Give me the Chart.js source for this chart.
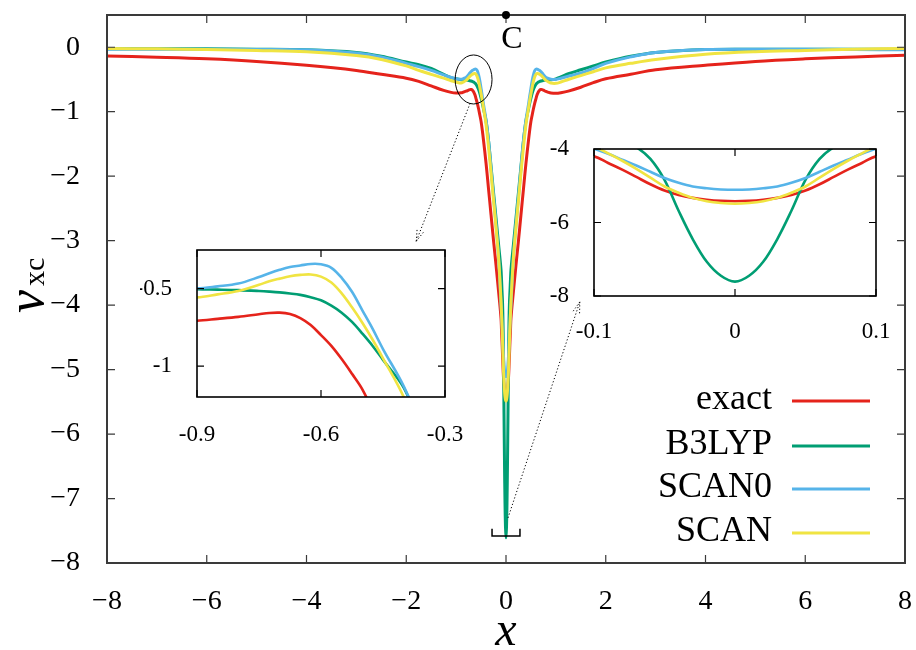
<!DOCTYPE html>
<html>
<head>
<meta charset="utf-8">
<script src="https://cdn.jsdelivr.net/npm/chart.js@4"></script>
<style>
  body { margin: 0; background: #fff; }
  #wrap { position: relative; width: 916px; height: 650px; }
  canvas { position: absolute; }
</style>
</head>
<body>
<div id="wrap">
  <canvas id="main" width="916" height="650" style="left:0;top:0"></canvas>
  <canvas id="inset1" width="340" height="215" style="left:140px;top:235px"></canvas>
  <canvas id="inset2" width="386" height="215" style="left:530px;top:135px"></canvas>
</div>
<script>
// x grid (denser near the nucleus at x = 0)
const xs = [
  -8, -7, -6, -5, -4, -3, -2.5, -2, -1.75, -1.5, -1.25, -1.1, -1,
  -0.9, -0.85, -0.8, -0.75, -0.725, -0.7, -0.675, -0.65, -0.625, -0.6, -0.575, -0.55, -0.525, -0.5, -0.475, -0.45,
  -0.4, -0.35, -0.3, -0.25, -0.2, -0.15, -0.1,
  -0.09, -0.08, -0.07, -0.06, -0.05, -0.04, -0.03, -0.02, -0.01, 0,
  0.01, 0.02, 0.03, 0.04, 0.05, 0.06, 0.07, 0.08, 0.09,
  0.1, 0.15, 0.2, 0.25, 0.3, 0.35, 0.4,
  0.45, 0.475, 0.5, 0.525, 0.55, 0.575, 0.6, 0.625, 0.65, 0.675, 0.7, 0.725, 0.75, 0.8, 0.85, 0.9,
  1, 1.1, 1.25, 1.5, 1.75, 2, 2.5, 3, 4, 5, 6, 7, 8
];

const exact = [
  -0.135, -0.155, -0.18, -0.22, -0.28, -0.36, -0.42, -0.48, -0.53, -0.6, -0.67, -0.70, -0.71,
  -0.707, -0.695, -0.682, -0.665, -0.657, -0.655, -0.664, -0.69, -0.735, -0.80, -0.87, -0.955, -1.05, -1.15, -1.29, -1.45,
  -1.8, -2.2, -2.6, -3.0, -3.38, -3.78, -4.2,
  -4.38, -4.56, -4.76, -4.96, -5.13, -5.25, -5.33, -5.38, -5.41, -5.42,
  -5.41, -5.38, -5.33, -5.25, -5.13, -4.96, -4.76, -4.56, -4.38,
  -4.2, -3.78, -3.38, -3.0, -2.6, -2.2, -1.8,
  -1.45, -1.29, -1.15, -1.05, -0.955, -0.87, -0.80, -0.735, -0.69, -0.664, -0.655, -0.657, -0.665, -0.685, -0.70, -0.71,
  -0.715, -0.705, -0.68, -0.62, -0.55, -0.49, -0.42, -0.35, -0.28, -0.22, -0.18, -0.15, -0.125
];

const b3lyp = [
  -0.025, -0.025, -0.025, -0.03, -0.04, -0.08, -0.14, -0.23, -0.27, -0.33, -0.42, -0.47, -0.49,
  -0.504, -0.506, -0.509, -0.515, -0.519, -0.524, -0.531, -0.54, -0.555, -0.575, -0.61, -0.655, -0.715, -0.79, -0.87, -0.96,
  -1.14, -1.45, -1.85, -2.25, -2.65, -3.05, -3.45,
  -3.6, -3.78, -3.95, -4.27, -4.84, -5.68, -6.45, -7.07, -7.45, -7.61,
  -7.45, -7.07, -6.45, -5.68, -4.84, -4.27, -3.95, -3.78, -3.6,
  -3.45, -3.05, -2.65, -2.25, -1.85, -1.45, -1.14,
  -0.96, -0.87, -0.79, -0.715, -0.655, -0.61, -0.575, -0.555, -0.54, -0.531, -0.524, -0.519, -0.515, -0.509, -0.506, -0.504,
  -0.49, -0.46, -0.41, -0.35, -0.29, -0.23, -0.14, -0.08, -0.035, -0.03, -0.03, -0.03, -0.03
];

const scan0 = [
  -0.03, -0.03, -0.03, -0.035, -0.04, -0.09, -0.15, -0.25, -0.30, -0.36, -0.43, -0.47, -0.49,
  -0.498, -0.485, -0.467, -0.425, -0.40, -0.378, -0.36, -0.35, -0.34, -0.342, -0.365, -0.43, -0.52, -0.64, -0.76, -0.89,
  -1.13, -1.45, -1.88, -2.32, -2.75, -3.25, -3.99,
  -4.13, -4.29, -4.45, -4.62, -4.79, -4.92, -5.02, -5.07, -5.10, -5.11,
  -5.10, -5.07, -5.02, -4.92, -4.79, -4.62, -4.45, -4.29, -4.13,
  -3.99, -3.25, -2.75, -2.32, -1.88, -1.45, -1.13,
  -0.89, -0.76, -0.64, -0.52, -0.43, -0.365, -0.342, -0.34, -0.35, -0.36, -0.378, -0.40, -0.425, -0.467, -0.485, -0.498,
  -0.50, -0.48, -0.45, -0.40, -0.33, -0.25, -0.15, -0.08, -0.035, -0.03, -0.03, -0.035, -0.04
];

const scan = [
  -0.02, -0.025, -0.035, -0.05, -0.07, -0.13, -0.19, -0.29, -0.36, -0.42, -0.48, -0.52, -0.54,
  -0.556, -0.537, -0.515, -0.475, -0.452, -0.435, -0.42, -0.411, -0.408, -0.422, -0.46, -0.53, -0.62, -0.72, -0.83, -0.95,
  -1.2, -1.55, -1.95, -2.38, -2.8, -3.25, -3.93,
  -4.12, -4.32, -4.54, -4.78, -5.02, -5.19, -5.33, -5.42, -5.47, -5.49,
  -5.47, -5.42, -5.33, -5.19, -5.02, -4.78, -4.54, -4.32, -4.12,
  -3.93, -3.25, -2.8, -2.38, -1.95, -1.55, -1.2,
  -0.95, -0.83, -0.72, -0.62, -0.53, -0.46, -0.422, -0.408, -0.411, -0.42, -0.435, -0.452, -0.475, -0.515, -0.537, -0.556,
  -0.56, -0.54, -0.50, -0.44, -0.38, -0.32, -0.25, -0.19, -0.11, -0.07, -0.05, -0.03, -0.02
];

const seriesNames = ['exact', 'B3LYP', 'SCAN0', 'SCAN'];
const seriesColors = ['#e5231b', '#009e73', '#56b4e9', '#f0e442'];
const seriesValues = [exact, b3lyp, scan0, scan];

// tick labels
const mainXTicks = [-8, -6, -4, -2, 0, 2, 4, 6, 8];
const mainYTicks = [0, -1, -2, -3, -4, -5, -6, -7, -8];
const inset1XTicks = [-0.9, -0.6, -0.3];
const inset1YTicks = [-0.5, -1];
const inset2XTicks = [-0.1, 0, 0.1];
const inset2YTicks = [-4, -6, -8];

const SERIF = 'Liberation Serif';

function makeDatasets(width) {
  return seriesNames.map((name, i) => ({
    label: name,
    data: xs.map((x, j) => ({ x: x, y: seriesValues[i][j] })),
    borderColor: seriesColors[i],
    borderWidth: width,
    pointRadius: 0,
    fill: false,
    tension: 0.35,
    order: 4 - i   // SCAN drawn on top
  }));
}

function fixedTicks(values) {
  return scale => { scale.ticks = values.map(v => ({ value: v })); };
}

// fixed axis box size, no automatic label overflow padding
function fixedSize(prop, size) {
  return scale => {
    scale[prop] = size;
    scale.paddingLeft = 0; scale.paddingRight = 0;
    scale.paddingTop = 0; scale.paddingBottom = 0;
  };
}

// gnuplot style frame with inward ticks on all four sides
function framePlugin(xTicks, yTicks, color, frameWidth, tickLen, fillWhite) {
  return {
    id: 'frame',
    beforeDraw(chart) {
      if (!fillWhite) return;
      const a = chart.chartArea;
      chart.ctx.save();
      chart.ctx.fillStyle = '#fff';
      chart.ctx.fillRect(a.left, a.top, a.right - a.left, a.bottom - a.top);
      chart.ctx.restore();
    },
    afterDatasetsDraw(chart) {
      const { ctx, chartArea: a, scales: { x, y } } = chart;
      ctx.save();
      ctx.strokeStyle = color;
      ctx.lineWidth = 1.2;
      ctx.beginPath();
      xTicks.forEach(v => {
        const px = x.getPixelForValue(v);
        ctx.moveTo(px, a.bottom); ctx.lineTo(px, a.bottom - tickLen);
        ctx.moveTo(px, a.top); ctx.lineTo(px, a.top + tickLen);
      });
      yTicks.forEach(v => {
        const py = y.getPixelForValue(v);
        ctx.moveTo(a.left, py); ctx.lineTo(a.left + tickLen, py);
        ctx.moveTo(a.right, py); ctx.lineTo(a.right - tickLen, py);
      });
      ctx.stroke();
      ctx.lineWidth = frameWidth;
      ctx.strokeRect(a.left, a.top, a.right - a.left, a.bottom - a.top);
      ctx.restore();
    }
  };
}

function dottedArrow(ctx, x0, y0, x1, y1) {
  ctx.save();
  ctx.setLineDash([1.2, 2.2]);
  ctx.lineWidth = 1;
  ctx.strokeStyle = '#000';
  ctx.beginPath();
  ctx.moveTo(x0, y0);
  ctx.lineTo(x1, y1);
  const ang = Math.atan2(y1 - y0, x1 - x0);
  [0.3, -0.3].forEach(d => {
    ctx.moveTo(x1, y1);
    ctx.lineTo(x1 - 12 * Math.cos(ang + d), y1 - 12 * Math.sin(ang + d));
  });
  ctx.stroke();
  ctx.restore();
}

const annotations = {
  id: 'annotations',
  afterDraw(chart) {
    const { ctx, scales: { x, y } } = chart;
    ctx.save();

    // ellipse around the bump near x = -0.65
    const cx = x.getPixelForValue(-0.65), cy = y.getPixelForValue(-0.5);
    const rx = x.getPixelForValue(-0.28) - cx, ry = y.getPixelForValue(-0.88) - cy;
    ctx.strokeStyle = '#000';
    ctx.lineWidth = 1;
    ctx.beginPath();
    ctx.ellipse(cx, cy, rx, ry, 0, 0, Math.PI * 2);
    ctx.stroke();

    // bracket at the bottom of the cusp
    const bl = x.getPixelForValue(-0.28), br = x.getPixelForValue(0.28);
    const bt = y.getPixelForValue(-7.47), bb = y.getPixelForValue(-7.58);
    ctx.lineWidth = 1.5;
    ctx.beginPath();
    ctx.moveTo(bl, bt); ctx.lineTo(bl, bb); ctx.lineTo(br, bb); ctx.lineTo(br, bt);
    ctx.stroke();

    dottedArrow(ctx, x.getPixelForValue(-0.72), y.getPixelForValue(-0.87),
                x.getPixelForValue(-1.8), y.getPixelForValue(-3.01));
    dottedArrow(ctx, x.getPixelForValue(0.04), y.getPixelForValue(-7.30),
                x.getPixelForValue(1.48), y.getPixelForValue(-3.95));

    // nucleus marker
    const nx = x.getPixelForValue(0), ny = y.getPixelForValue(0.5);
    ctx.fillStyle = '#000';
    ctx.beginPath();
    ctx.arc(nx, ny, 4, 0, Math.PI * 2);
    ctx.fill();
    ctx.font = `32px "${SERIF}"`;
    ctx.textAlign = 'center';
    ctx.textBaseline = 'alphabetic';
    ctx.fillText('C', nx + 6, ny + 33);

    // legend
    const legendY = [401, 446, 489, 533];
    ctx.font = `36px "${SERIF}"`;
    ctx.textAlign = 'right';
    seriesNames.forEach((name, i) => {
      ctx.fillStyle = '#000';
      ctx.fillText(name, 772, legendY[i] + 8);
      ctx.strokeStyle = seriesColors[i];
      ctx.lineWidth = 3;
      ctx.beginPath();
      ctx.moveTo(792, legendY[i]);
      ctx.lineTo(870, legendY[i]);
      ctx.stroke();
    });

    // axis titles
    ctx.fillStyle = '#000';
    ctx.font = `italic 48px "${SERIF}"`;
    ctx.textAlign = 'center';
    ctx.fillText('x', 506, 645);

    ctx.translate(43, 298);
    ctx.rotate(-Math.PI / 2);
    ctx.textAlign = 'left';
    ctx.font = `italic 52px "${SERIF}"`;
    ctx.fillText('v', -15, 0);
    ctx.font = `30px "${SERIF}"`;
    ctx.fillText('xc', 12, 1);
    ctx.restore();
  }
};

const minusSign = v => String(v).replace('-', '\u2212');

new Chart(document.getElementById('main'), {
  type: 'line',
  data: { datasets: makeDatasets(3) },
  options: {
    responsive: false,
    animation: false,
    layout: { padding: { left: 0, right: 11, top: 15, bottom: 0 } },
    scales: {
      x: {
        type: 'linear', min: -8, max: 8,
        afterBuildTicks: fixedTicks(mainXTicks),
        afterFit: fixedSize('height', 87),
        grid: { display: false }, border: { display: false },
        ticks: { font: { family: SERIF, size: 28 }, color: '#000', padding: 14,
                 autoSkip: false, maxRotation: 0, callback: minusSign }
      },
      y: {
        type: 'linear', min: -8, max: 0.5,
        afterBuildTicks: fixedTicks(mainYTicks),
        afterFit: fixedSize('width', 107),
        grid: { display: false }, border: { display: false },
        ticks: { font: { family: SERIF, size: 28 }, color: '#000', padding: 19,
                 autoSkip: false, callback: minusSign }
      }
    },
    plugins: { legend: { display: false }, tooltip: { enabled: false } }
  },
  plugins: [framePlugin(mainXTicks, mainYTicks, '#3a3a3a', 2, 8, false), annotations]
});

function insetChart(id, xr, yr, xt, yt, pad, yw, xh, xpad) {
  return new Chart(document.getElementById(id), {
    type: 'line',
    data: { datasets: makeDatasets(2.6) },
    options: {
      responsive: false,
      animation: false,
      layout: { padding: pad },
      scales: {
        x: {
          type: 'linear', min: xr[0], max: xr[1],
          afterBuildTicks: fixedTicks(xt),
          afterFit: fixedSize('height', xh),
          grid: { display: false }, border: { display: false },
          ticks: { font: { family: SERIF, size: 23 }, color: '#000', padding: xpad,
                   autoSkip: false, maxRotation: 0, callback: v => String(v) }
        },
        y: {
          type: 'linear', min: yr[0], max: yr[1],
          afterBuildTicks: fixedTicks(yt),
          afterFit: fixedSize('width', yw),
          grid: { display: false }, border: { display: false },
          ticks: { font: { family: SERIF, size: 23 }, color: '#000', padding: 17,
                   autoSkip: false, callback: v => String(v) }
        }
      },
      plugins: { legend: { display: false }, tooltip: { enabled: false } }
    },
    plugins: [framePlugin(xt, yt, '#000', 1.6, 7, true)]
  });
}

insetChart('inset1', [-0.9, -0.3], [-1.2, -0.25], inset1XTicks, inset1YTicks,
           { left: 0, top: 15, right: 35, bottom: 0 }, 57, 53, 16);
insetChart('inset2', [-0.1, 0.1], [-8, -4], inset2XTicks, inset2YTicks,
           { left: 0, top: 14, right: 40, bottom: 0 }, 64, 54, 14);
</script>
</body>
</html>
